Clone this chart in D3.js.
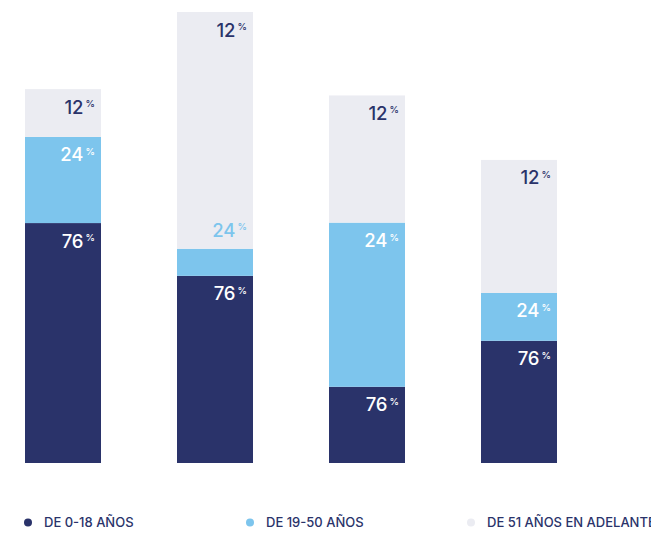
<!DOCTYPE html>
<html>
<head>
<meta charset="utf-8">
<script src="https://cdn.jsdelivr.net/npm/d3@7"></script>
<style>
  html, body { margin: 0; padding: 0; background: #ffffff; }
  svg { display: block; font-family: Inter, "Noto Sans", sans-serif; }
</style>
</head>
<body>
<svg id="chart" width="651" height="537"></svg>
<script>
// Groups (one stacked column each)
const groups = ["G1", "G2", "G3", "G4"];

// Series: age ranges, stacked bottom to top
const seriesNames = ["DE 0-18 AÑOS", "DE 19-50 AÑOS", "DE 51 AÑOS EN ADELANTE"];
const seriesColors = ["#2a336a", "#7dc5ed", "#ebecf2"];
const labelColors = ["#ffffff", "#ffffff", "#2a336a"];

// Segment sizes per series
const age0to18 = [53.2, 41.5, 16.9, 27.1];
const age19to50 = [19.1, 6.0, 36.4, 10.6];
const age51plus = [10.6, 52.5, 28.2, 29.5];

// Printed labels per series
const labels0to18 = ["76", "76", "76", "76"];
const labels19to50 = ["24", "24", "24", "24"];
const labels51plus = ["12", "12", "12", "12"];

const seriesValues = [age0to18, age19to50, age51plus];
const seriesLabels = [labels0to18, labels19to50, labels51plus];

const svg = d3.select("#chart");

const x = d3.scaleBand()
  .domain(groups)
  .range([25, 557])
  .paddingInner(0.5)
  .paddingOuter(0);

const y = d3.scaleLinear()
  .domain([0, 100])
  .range([463, 12]);

const rows = groups.map((g, i) => {
  const r = { group: g };
  seriesNames.forEach((s, k) => { r[s] = seriesValues[k][i]; });
  return r;
});

const stacked = d3.stack().keys(seriesNames)(rows);

const layers = svg.append("g").selectAll("g")
  .data(stacked)
  .join("g")
  .attr("fill", (d, k) => seriesColors[k]);

layers.selectAll("rect")
  .data(d => d)
  .join("rect")
  .attr("x", d => x(d.data.group))
  .attr("width", x.bandwidth())
  .attr("y", d => y(d[1]))
  .attr("height", d => y(d[0]) - y(d[1]));

// Value labels, right-aligned inside each segment with a small raised "%"
const labelG = svg.append("g");
stacked.forEach((layer, k) => {
  layer.forEach((d, i) => {
    const top = y(d[1]);
    const h = y(d[0]) - y(d[1]);
    const right = x(d.data.group) + x.bandwidth();
    let base, color;
    if (h < 35) {
      // thin segment: label sits just above it in the segment colour
      base = top - 12;
      color = seriesColors[k];
    } else {
      base = top + 24.5;
      color = labelColors[k];
    }
    labelG.append("text")
      .attr("x", right - 18)
      .attr("y", base)
      .attr("text-anchor", "end")
      .attr("fill", color)
      .attr("font-size", 18.5)
      .attr("font-weight", 500)
      .attr("letter-spacing", "-0.3")
      .text(seriesLabels[k][i]);
    labelG.append("text")
      .attr("x", right - 15.5)
      .attr("y", base - 6.5)
      .attr("fill", color)
      .attr("font-size", 9.5)
      .attr("font-weight", 500)
      .text("%");
  });
});

// Legend
const legendX = [28, 250, 471];
const legend = svg.append("g").selectAll("g")
  .data(seriesNames)
  .join("g")
  .attr("transform", (d, k) => `translate(${legendX[k]},522.5)`);

legend.append("circle")
  .attr("r", 4)
  .attr("fill", (d, k) => seriesColors[k]);

legend.append("text")
  .attr("x", 16)
  .attr("y", 4.5)
  .attr("fill", "#2a336a")
  .attr("font-size", 13)
  .attr("font-weight", 500)
  .attr("letter-spacing", "0")
  .text(d => d);
</script>
</body>
</html>
